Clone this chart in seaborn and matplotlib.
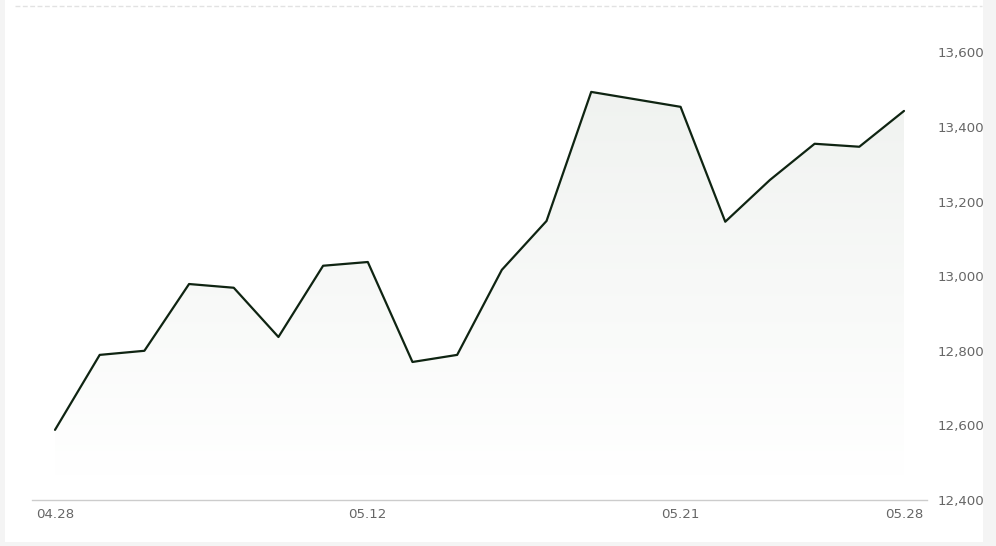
import numpy as np
import pandas as pd
import matplotlib
matplotlib.use("Agg")
import matplotlib.pyplot as plt
from matplotlib.patches import Rectangle, Polygon
from matplotlib.lines import Line2D
import seaborn as sns

dates = ["04.28", "04.29", "04.30", "05.06", "05.07", "05.08", "05.09", "05.12",
         "05.13", "05.14", "05.15", "05.16", "05.19", "05.20", "05.21", "05.22",
         "05.23", "05.26", "05.27", "05.28"]
values = [12588, 12789, 12800, 12979, 12969, 12837, 13028, 13038,
          12770, 12789, 13017, 13148, 13494, 13474, 13454, 13146,
          13258, 13355, 13347, 13443]
x_tick_labels = ["04.28", "05.12", "05.21", "05.28"]
y_ticks = [12400, 12600, 12800, 13000, 13200, 13400, 13600]

sns.set_theme(style="white")
plt.rcParams['font.family'] = ['DejaVu Sans']

W, H = 996, 546
fig = plt.figure(figsize=(W / 100, H / 100), dpi=100)
fig.patch.set_facecolor("#f4f4f4")
# white card
fig.add_artist(Rectangle((5 / W, 1 - 542 / H), (983 - 5) / W, 542 / H,
                         transform=fig.transFigure, facecolor="white",
                         edgecolor="none", zorder=-5))

ax = fig.add_axes([32 / W, 1 - 500 / H, (927 - 32) / W, (500 - 5) / H])
ax.set_facecolor("none")

df = pd.DataFrame({"idx": np.arange(len(dates)), "date": dates, "value": values})
ymin, ymax = 12400, 13727

# gradient fill under the line
xs = df["idx"].to_numpy(dtype=float)
ys = df["value"].to_numpy(dtype=float)
verts = [(xs[0], ymin)] + list(zip(xs, ys)) + [(xs[-1], ymin)]
poly = Polygon(verts, closed=True, facecolor="none", edgecolor="none")
ax.add_patch(poly)
n = 256
grad = np.zeros((n, 2, 4))
top_val = ys.max()
yy = np.linspace(ymin, top_val, n)
alpha = np.clip((yy - 12460) / (top_val - 12460), 0, 1) * 0.75
grad[:, :, 0] = 0.925
grad[:, :, 1] = 0.935
grad[:, :, 2] = 0.925
grad[:, :, 3] = alpha[:, None]
im = ax.imshow(grad, extent=[xs[0], xs[-1], ymin, top_val], origin="lower",
               aspect="auto", zorder=1, interpolation="bilinear")
im.set_clip_path(poly)

sns.lineplot(data=df, x="idx", y="value", ax=ax, color="#0f2412",
             linewidth=1.6, zorder=3)

ax.set_xlim(-0.515, len(dates) - 1 + 0.515)
ax.set_ylim(ymin, ymax)
ax.set_xticks([dates.index(d) for d in x_tick_labels])
ax.set_xticklabels(x_tick_labels)
ax.set_yticks(y_ticks)
ax.set_yticklabels([f"{v:,}" for v in y_ticks])
ax.yaxis.tick_right()
ax.tick_params(axis="both", length=0, labelsize=9.6, labelcolor="#666666")
ax.tick_params(axis="x", pad=6)
ax.tick_params(axis="y", pad=7.5)
for lab in ax.get_yticklabels():
    lab.set_horizontalalignment("left")
ax.set_xlabel("")
ax.set_ylabel("")
for s in ["left", "right", "top"]:
    ax.spines[s].set_visible(False)
ax.spines["bottom"].set_color("#cccccc")
ax.spines["bottom"].set_linewidth(1)
ax.grid(False)

# dashed top line
fig.add_artist(Line2D([15 / W, 982 / W], [1 - 5.5 / H, 1 - 5.5 / H],
                      transform=fig.transFigure, color="#e2e2e2",
                      linewidth=1, linestyle=(0, (3.5, 1.8)), zorder=2))
# right margin (clips labels)
fig.add_artist(Rectangle((983 / W, 0), (W - 983) / W, 1,
                         transform=fig.transFigure, facecolor="#f4f4f4",
                         edgecolor="none", zorder=20))

fig.savefig("out.png", dpi=100, facecolor=fig.get_facecolor())
